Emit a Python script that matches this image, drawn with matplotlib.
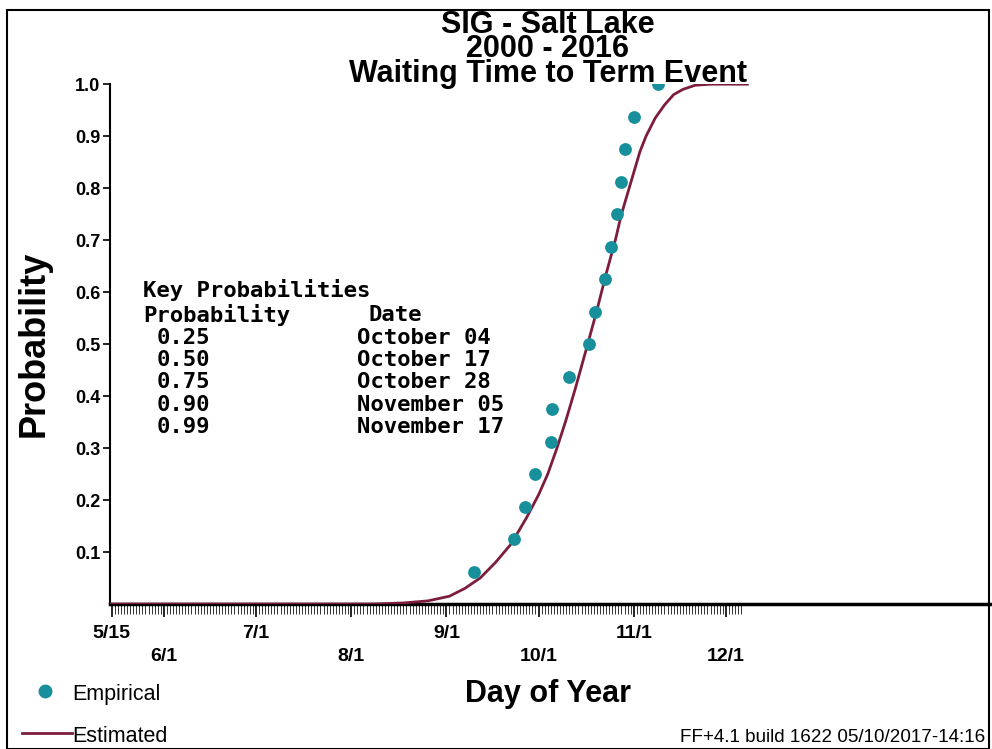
"""Waiting time to term event: empirical points vs estimated CDF."""
import matplotlib

matplotlib.use("Agg")
import matplotlib.pyplot as plt  # noqa: E402
from matplotlib.patches import Rectangle  # noqa: E402

# day-of-year of each event, empirical cumulative probability (k/16)
emp_day = [253, 266, 269.5, 273, 278, 278.5, 284, 290.5, 292.5, 295.5,
           297.5, 299.5, 301, 302, 305, 313]
emp_prob = [0.0625, 0.125, 0.1875, 0.25, 0.3125, 0.375, 0.4375, 0.5, 0.5625,
            0.625, 0.6875, 0.75, 0.8125, 0.875, 0.9375, 1.0]

# estimated curve
est_day = [134, 220, 230, 238, 245, 250, 255, 260, 265, 270, 274, 277, 280,
           283, 286, 290, 293, 296, 299, 301, 304, 307, 309, 312, 315, 318,
           321, 325, 330, 342]
est_prob = [0.0, 0.0, 0.002, 0.006, 0.015, 0.03, 0.05, 0.08, 0.115, 0.165,
            0.21, 0.25, 0.30, 0.355, 0.415, 0.50, 0.565, 0.635, 0.70, 0.75,
            0.81, 0.87, 0.90, 0.935, 0.96, 0.98, 0.99, 0.998, 1.0, 1.0]

tick_days = [135, 152, 182, 213, 244, 274, 305, 335]
tick_labels = ["5/15", "6/1", "7/1", "8/1", "9/1", "10/1", "11/1", "12/1"]

title_lines = ["SIG - Salt Lake", "2000 - 2016", "Waiting Time to Term Event"]

key_probs = ["0.25", "0.50", "0.75", "0.90", "0.99"]
key_dates = ["October 04", "October 17", "October 28", "November 05", "November 17"]

_EMP_COLOR = "#17909b"
_EST_COLOR = "#7d1d3c"
_SANS = "Liberation Sans"
_MONO = "DejaVu Sans Mono"

fig = plt.figure(figsize=(9.92, 7.49), dpi=100)
fig.patch.set_facecolor("white")
fig.add_artist(Rectangle((0.007, 0.0), 0.99, 0.986, transform=fig.transFigure,
                         fill=False, lw=1.5, color="black"))

ax = fig.add_axes([0.111, 0.1936, 0.887, 0.694])
ax.plot(est_day, est_prob, color=_EST_COLOR, lw=2.0, zorder=3)
ax.scatter(emp_day, emp_prob, s=85, color=_EMP_COLOR, zorder=4, linewidths=0)

ax.set_xlim(134.5, 421)
ax.set_ylim(0, 1.0)
for side in ("top", "right"):
    ax.spines[side].set_visible(False)
ax.spines["bottom"].set_linewidth(2.5)
ax.spines["left"].set_linewidth(1.5)

ax.set_yticks([0.1, 0.2, 0.3, 0.4, 0.5, 0.6, 0.7, 0.8, 0.9, 1.0])
ax.set_yticklabels([f"{v:.1f}" for v in ax.get_yticks()],
                   fontsize=13, fontweight="bold", family=_SANS)
ax.tick_params(axis="y", length=5, width=1.2, pad=2)

ax.set_xticks(tick_days)
ax.set_xticklabels([lab if i % 2 == 0 else "\n" + lab
                    for i, lab in enumerate(tick_labels)],
                   fontsize=14, fontweight="bold", family=_SANS)
for lbl in ax.get_xticklabels():
    lbl.set_linespacing(1.45)
ax.set_xticks(range(135, 341), minor=True)
ax.tick_params(axis="x", which="major", length=9, width=1.2, pad=6)
ax.tick_params(axis="x", which="minor", length=7, width=0.7, color="#333333")

fig.text(0.034, 0.541, "Probability", rotation=90, ha="center", va="center",
         fontsize=26, fontweight="bold", family=_SANS)

# three title lines, tightly stacked as in the original (one text object)
fig.text(0.552, 0.891, "\n".join(title_lines), ha="center", va="baseline",
         multialignment="center", linespacing=0.76, fontsize=22,
         fontweight="bold", family=_SANS)

fig.text(0.552, 0.063, "Day of Year", ha="center", va="baseline",
         fontsize=22, fontweight="bold", family=_SANS)

# key probabilities block
mono = dict(fontsize=16, family=_MONO, fontweight="bold", va="center")
fig.text(0.144, 0.613, "Key Probabilities", **mono)
fig.text(0.144, 0.580, "Probability", **mono)
fig.text(0.371, 0.580, "Date", **mono)
for i, (p, d) in enumerate(zip(key_probs, key_dates)):
    y = 0.549 - i * 0.0298
    fig.text(0.158, y, p, **mono)
    fig.text(0.36, y, d, **mono)

# legend
fig.add_artist(plt.Line2D([0.045], [0.078], marker="o", markersize=9,
                          color=_EMP_COLOR, transform=fig.transFigure))
fig.text(0.073, 0.065, "Empirical", fontsize=15.5, family=_SANS, va="baseline")
fig.add_artist(plt.Line2D([0.022, 0.073], [0.021, 0.021], lw=2,
                          color=_EST_COLOR, transform=fig.transFigure))
fig.text(0.073, 0.009, "Estimated", fontsize=15.5, family=_SANS, va="baseline")

fig.text(0.993, 0.009, "FF+4.1 build 1622 05/10/2017-14:16", fontsize=13.6,
         family=_SANS, ha="right", va="baseline")

fig.savefig("out.png", dpi=100, facecolor="white")
